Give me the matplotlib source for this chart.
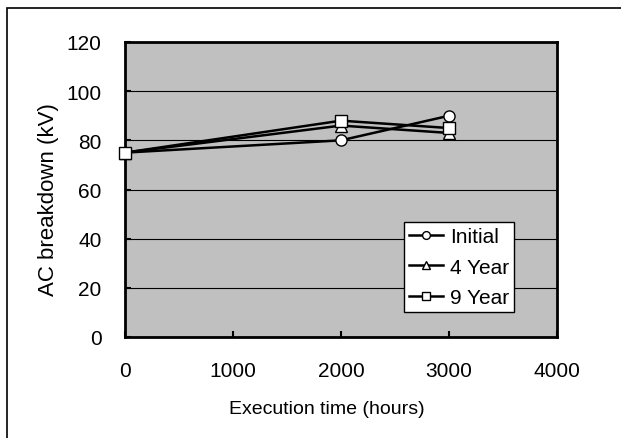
import matplotlib.pyplot as plt
from matplotlib.patches import Rectangle

plt.rcParams['font.family'] = ['Liberation Sans', 'DejaVu Sans']

# data
hours = [0, 2000, 3000]
initial = [75, 80, 90]
year4 = [75, 86, 83]
year9 = [75, 88, 85]
labels = ['Initial', '4 Year', '9 Year']
markers = ['o', '^', 's']

fig = plt.figure(figsize=(6.21, 4.39), dpi=100)
ax = fig.add_axes([125 / 621, 1 - 338 / 439, (557 - 125) / 621, (338 - 43) / 439])
ax.set_facecolor('#c0c0c0')

# outer frame (chart-area border)
fig.patches.append(Rectangle((7 / 621, -0.1), 1.1, 1 - 9 / 439 + 0.1,
                             transform=fig.transFigure, fill=False,
                             edgecolor='black', lw=1.2))

for ys, lab, m in zip([initial, year4, year9], labels, markers):
    ax.plot(hours, ys, color='black', lw=1.8, marker=m, markersize=8,
            markerfacecolor='white', markeredgecolor='black',
            markeredgewidth=1.0, label=lab, clip_on=False, zorder=3)

ax.set_xlim(0, 4000)
ax.set_ylim(0, 120)
ax.set_xticks([0, 1000, 2000, 3000, 4000])
ax.set_yticks(range(0, 121, 20))
ax.yaxis.grid(True, color='black', lw=0.8)
ax.set_axisbelow(True)
ax.tick_params(direction='in', labelsize=15, length=4, width=1.5, pad=17)
for s in ax.spines.values():
    s.set_linewidth(2)

ax.set_xlabel('Execution time (hours)', fontsize=14)
ax.xaxis.set_label_coords(0.468, -0.212)
ax.set_ylabel('AC breakdown (kV)', fontsize=16, va='center')
ax.yaxis.set_label_coords(-0.178, 0.47)

leg = ax.legend(loc='upper left', bbox_to_anchor=((404 - 125) / 432, (338 - 223) / 295),
                fontsize=15, frameon=True, fancybox=False, edgecolor='black',
                framealpha=1, handlelength=1.6, borderpad=0.25,
                labelspacing=0.55, handletextpad=0.35, borderaxespad=0,
                markerscale=0.7)
leg.get_frame().set_linewidth(1.0)

fig.savefig('out.png', dpi=100)
